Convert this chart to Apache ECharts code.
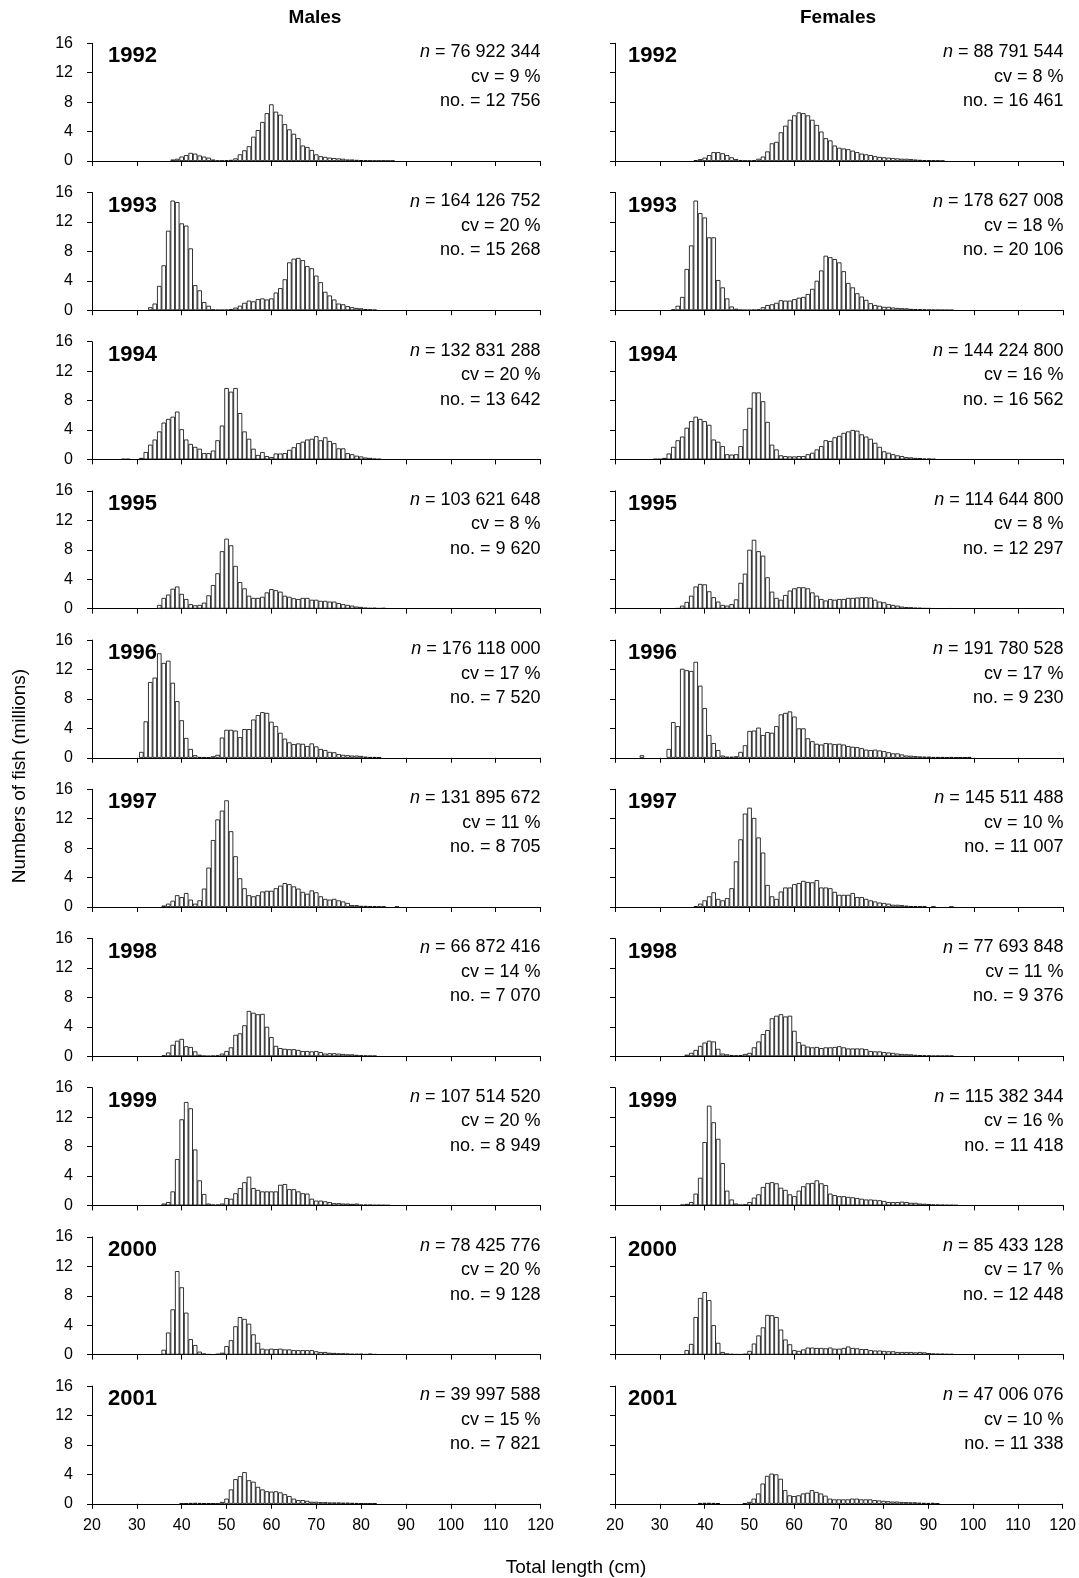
<!DOCTYPE html>
<html>
<head>
<meta charset="utf-8">
<script src="https://cdn.jsdelivr.net/npm/echarts@6.0.0/dist/echarts.min.js"></script>
<style>
html,body{margin:0;padding:0;background:#fff;}
#c{width:1079px;height:1578px;}
</style>
</head>
<body>
<div id="c"></div>
<script>
// Length classes: index 0 = 20 cm, 1-cm bins
const START_LEN = 20;
const years = [1992, 1993, 1994, 1995, 1996, 1997, 1998, 1999, 2000, 2001];
const xTicks = [20, 30, 40, 50, 60, 70, 80, 90, 100, 110, 120];
const yTicks = [0, 4, 8, 12, 16];

// Males (millions of fish)
const m1992 = [0,0,0,0,0,0,0,0,0,0, 0,0,0,0,0,0,0,0,0.2,0.3, 0.6,0.8,1.1,1.0,0.75,0.6,0.45,0.2,0.05,0.05, 0.1,0.15,0.35,0.9,1.45,2.0,3.3,4.2,5.3,6.5, 7.7,6.7,6.3,5.0,4.3,3.7,3.1,2.1,1.9,1.5, 0.9,0.65,0.55,0.45,0.4,0.35,0.3,0.2,0.2,0.15, 0.12,0.08,0.05,0.03,0.03,0.05,0.02,0.03];
const m1993 = [0,0,0,0,0,0,0,0,0,0, 0,0,0,0.4,0.9,3.3,6.1,10.8,14.9,14.7, 11.8,11.5,8.4,3.4,2.7,1.1,0.6,0.1,0.03,0.03, 0.05,0.15,0.35,0.6,1.0,1.3,1.2,1.5,1.6,1.45, 1.6,2.4,3.0,4.2,6.5,7.0,7.1,6.8,6.0,5.7, 4.7,3.8,2.5,2.0,1.45,0.9,0.8,0.55,0.4,0.3, 0.25,0.15,0.1,0.05];
const m1994 = [0,0,0,0,0,0,0,0.05,0.05,0, 0,0.2,1.0,2.0,2.7,3.8,5.0,5.5,5.8,6.5, 4.1,2.7,2.1,1.7,1.45,0.85,0.85,1.2,2.6,4.6, 9.7,9.2,9.7,6.3,3.8,2.8,1.45,0.6,1.0,0.45, 0.3,0.8,0.8,0.85,1.3,1.65,2.2,2.4,2.7,2.8, 3.15,2.6,3.0,2.5,2.2,1.5,1.5,0.85,0.7,0.5, 0.4,0.25,0.2,0.1,0.05];
const m1995 = [0,0,0,0,0,0,0,0,0,0, 0,0,0,0,0,0.5,1.45,1.9,2.7,3.0, 2.0,1.3,0.6,0.45,0.5,0.8,1.8,3.2,4.8,7.8, 9.5,8.6,5.8,3.6,2.75,1.75,1.45,1.45,1.6,2.2, 2.65,2.5,2.3,1.75,1.6,1.4,1.3,1.45,1.45,1.2, 1.2,1.05,1.05,0.95,0.95,0.75,0.6,0.5,0.4,0.27, 0.22,0.13,0.08,0.1,0.05,0.08,0.03];
const m1996 = [0,0,0,0,0,0,0,0,0,0, 0,0.8,4.95,10.3,10.9,14.2,12.9,13.2,10.2,7.7, 5.1,2.7,1.2,0.35,0.1,0.05,0.05,0.2,0.4,2.75, 3.8,3.8,3.7,2.8,3.9,3.9,5.2,5.8,6.2,6.1, 4.9,4.3,3.4,2.6,2.1,1.85,1.95,1.9,1.6,1.95, 1.55,1.2,1.05,0.8,0.75,0.5,0.4,0.35,0.3,0.3, 0.25,0.15,0.1,0.1,0.05];
const m1997 = [0,0,0,0,0,0,0,0,0,0, 0,0,0,0,0,0,0.2,0.45,0.85,1.6, 1.35,1.9,1.0,0.45,0.9,2.5,5.35,9.1,11.9,13.1, 14.5,10.3,6.9,3.9,2.55,1.6,1.45,1.6,2.1,2.2, 2.2,2.55,2.9,3.25,3.1,2.8,2.5,2.05,1.8,2.25, 2.0,1.45,1.1,1.0,1.1,0.9,0.75,0.55,0.25,0.25, 0.15,0.15,0.1,0.1,0.05,0.05,0,0,0.05];
const m1998 = [0,0,0,0,0,0,0,0,0,0, 0,0,0,0,0,0,0.1,0.5,1.55,2.1, 2.35,1.35,1.25,0.65,0.2,0.05,0.02,0.05,0.1,0.35, 0.7,1.2,2.9,3.1,4.2,6.15,5.9,5.7,5.75,4.0, 2.6,1.4,1.1,1.0,0.95,0.95,0.85,0.7,0.7,0.65, 0.7,0.55,0.35,0.4,0.4,0.35,0.3,0.25,0.25,0.18, 0.12,0.08,0.05,0.05];
const m1999 = [0,0,0,0,0,0,0,0,0,0, 0,0,0,0,0,0,0.25,0.45,1.9,6.3, 11.7,14.05,13.2,7.6,3.4,1.55,0.25,0.1,0.1,0.25, 1.0,0.9,1.65,2.35,3.15,3.9,2.35,2.1,1.9,1.9, 1.9,1.9,2.8,2.9,2.2,2.2,1.9,1.65,1.6,0.9, 0.65,0.65,0.55,0.45,0.3,0.3,0.25,0.25,0.2,0.25, 0.1,0.1,0.08,0.05,0.05,0.05,0.03];
const m2000 = [0,0,0,0,0,0,0,0,0,0, 0,0,0,0,0,0,0.65,3.0,6.15,11.35, 9.15,5.7,2.1,1.3,0.4,0.15,0.05,0.02,0.1,0.25, 1.15,1.95,3.85,5.1,4.85,4.2,2.75,1.6,0.8,0.7, 0.8,0.75,0.8,0.7,0.7,0.6,0.6,0.6,0.6,0.6, 0.45,0.35,0.35,0.25,0.22,0.18,0.18,0.15,0.1,0.1, 0.1,0.05,0.12,0.05];
const m2001 = [0,0,0,0,0,0,0,0,0,0, 0,0,0,0,0,0,0,0,0,0, 0.05,0.05,0.1,0.12,0.1,0.08,0.08,0.05,0.02,0.25, 0.7,1.95,3.35,3.75,4.3,3.2,3.0,2.3,1.95,1.7, 1.65,1.7,1.55,1.3,1.05,0.7,0.5,0.5,0.4,0.27, 0.27,0.22,0.22,0.18,0.18,0.18,0.15,0.15,0.12,0.1, 0.05,0.03,0.03,0.05];

// Females (millions of fish)
const f1992 = [0,0,0,0,0,0,0,0,0,0, 0,0,0,0,0,0,0,0,0.1,0.25, 0.45,0.8,1.2,1.2,1.05,0.8,0.5,0.25,0.1,0.05, 0.05,0.1,0.3,0.6,1.3,2.4,2.6,3.9,4.8,5.6, 6.2,6.6,6.5,6.2,5.6,4.9,4.0,3.1,2.8,2.1, 1.8,1.7,1.6,1.4,1.2,1.0,0.9,0.8,0.65,0.55, 0.5,0.45,0.4,0.35,0.3,0.3,0.25,0.2,0.15,0.12, 0.1,0.08,0.05,0.03];
const f1993 = [0,0,0,0,0,0,0,0,0,0, 0,0,0,0.1,0.6,1.8,5.6,8.8,14.9,13.2, 12.6,9.9,9.9,4.1,3.1,1.6,0.5,0.2,0.05,0.02, 0.02,0.05,0.1,0.4,0.7,0.8,1.0,1.35,1.3,1.3, 1.5,1.7,1.8,2.2,2.9,4.0,5.4,7.4,7.2,6.95, 6.5,5.3,3.7,3.1,2.3,1.85,1.4,0.95,0.7,0.6, 0.45,0.45,0.36,0.3,0.27,0.25,0.18,0.15,0.12,0.08, 0.06,0.05,0.04,0.03,0.02,0.02];
const f1994 = [0,0,0,0,0,0,0,0,0,0.05, 0.05,0.2,0.8,1.7,2.6,3.1,4.3,5.2,5.8,5.5, 5.2,4.7,2.7,2.4,1.8,0.7,0.65,0.7,1.8,4.1, 7.0,9.1,9.1,7.9,5.1,2.0,1.35,0.55,0.45,0.4, 0.4,0.45,0.45,0.7,0.9,1.35,1.8,2.6,2.5,3.0, 3.2,3.6,3.8,4.0,3.9,3.4,3.1,2.8,2.25,1.7, 1.1,0.9,0.7,0.55,0.45,0.3,0.27,0.2,0.18,0.1, 0.1,0.05];
const f1995 = [0,0,0,0,0,0,0,0,0,0, 0,0,0,0,0.05,0.4,0.9,1.75,3.0,3.35, 3.3,2.35,1.55,0.95,0.5,0.4,0.6,1.25,3.5,4.75, 8.0,9.35,7.8,7.2,4.25,2.3,1.45,1.2,1.85,2.45, 2.75,2.9,2.9,2.75,2.2,1.75,1.3,1.1,1.3,1.2, 1.3,1.3,1.45,1.45,1.5,1.55,1.55,1.5,1.2,0.95, 0.85,0.6,0.5,0.4,0.27,0.2,0.18,0.12,0.1,0.06, 0.05,0.03,0.02,0.02,0.02,0.03];
const f1996 = [0,0,0,0,0,0,0.35,0,0,0, 0,0,1.2,4.85,4.3,12.1,11.9,11.8,13.05,9.8, 6.75,3.1,2.0,1.05,0.3,0.15,0.15,0.2,0.8,1.7, 3.65,3.7,4.1,3.1,3.5,3.4,4.3,5.9,6.1,6.3, 5.6,4.0,4.0,2.65,2.25,1.9,1.8,2.0,1.95,1.85, 1.9,1.8,1.6,1.5,1.45,1.3,1.1,1.05,1.1,1.0, 0.9,0.75,0.6,0.6,0.45,0.3,0.28,0.22,0.18,0.15, 0.15,0.1,0.1,0.1,0.05,0.1,0.05,0.05,0.05,0.1];
const f1997 = [0,0,0,0,0,0,0,0,0,0, 0,0,0,0,0,0,0,0,0.1,0.45, 0.9,1.45,2.0,1.1,0.9,1.2,2.55,6.2,9.2,12.7, 13.5,12.1,9.45,7.4,3.0,1.45,1.1,2.1,2.65,2.65, 3.1,3.25,3.55,3.4,3.35,3.65,2.65,2.65,2.55,2.05, 1.65,1.65,1.65,1.9,1.35,1.35,1.1,0.9,0.75,0.6, 0.55,0.45,0.3,0.3,0.25,0.18,0.12,0.12,0.08,0.08, 0,0.05,0,0,0,0.03];
const f1998 = [0,0,0,0,0,0,0,0,0,0, 0,0,0,0,0,0,0.2,0.45,0.85,1.4, 1.85,2.1,2.0,1.0,0.35,0.25,0.15,0.1,0.15,0.3, 0.45,1.2,2.0,3.0,3.55,5.15,5.5,5.7,5.4,5.5, 3.45,1.9,1.55,1.3,1.2,1.25,1.1,1.2,1.2,1.25, 1.35,1.2,1.05,1.05,1.05,1.05,0.95,0.7,0.65,0.65, 0.55,0.5,0.45,0.35,0.3,0.27,0.25,0.18,0.15,0.12, 0.1,0.05,0.05,0.05,0.05,0.05];
const f1999 = [0,0,0,0,0,0,0,0,0,0, 0,0,0,0,0,0.1,0.2,0.45,1.6,3.75, 8.6,13.55,11.3,9.05,5.75,2.0,0.8,0.25,0.1,0.15, 0.45,1.05,1.5,2.5,3.05,3.15,3.0,2.4,2.1,1.5, 1.25,2.0,2.6,3.0,3.05,3.4,3.0,2.75,1.6,1.4, 1.25,1.25,1.15,1.1,1.0,0.9,0.8,0.8,0.75,0.7, 0.6,0.45,0.45,0.45,0.5,0.45,0.35,0.35,0.25,0.22, 0.18,0.12,0.1,0.08,0.05,0.05,0.03];
const f2000 = [0,0,0,0,0,0,0,0,0,0, 0,0,0,0,0,0,0.6,1.45,5.1,7.7, 8.5,7.4,4.0,1.6,0.35,0.15,0.08,0.05,0.04,0.1, 0.5,1.5,2.6,3.7,5.4,5.35,5.1,3.4,2.05,1.4, 0.6,0.5,0.7,0.95,0.95,0.9,0.9,0.85,0.95,0.8, 0.8,0.9,1.1,0.9,0.85,0.75,0.75,0.6,0.55,0.55, 0.5,0.45,0.45,0.35,0.35,0.35,0.35,0.3,0.35,0.3, 0.2,0.15,0.12,0.12,0.08,0.08];
const f2001 = [0,0,0,0,0,0,0,0,0,0, 0,0,0,0,0,0,0,0,0,0.1, 0.12,0.12,0.1,0.08,0,0,0,0,0,0.05, 0.25,0.7,1.4,2.75,3.8,4.1,4.0,3.4,1.85,1.15, 1.05,1.15,1.4,1.5,1.85,1.6,1.4,1.1,0.7,0.6, 0.6,0.6,0.6,0.7,0.7,0.6,0.6,0.6,0.5,0.45, 0.4,0.35,0.3,0.3,0.25,0.22,0.2,0.2,0.15,0.12, 0.1,0.12,0.05];

const males = [m1992, m1993, m1994, m1995, m1996, m1997, m1998, m1999, m2000, m2001];
const females = [f1992, f1993, f1994, f1995, f1996, f1997, f1998, f1999, f2000, f2001];

// Panel annotations
const maleN = ['76 922 344', '164 126 752', '132 831 288', '103 621 648', '176 118 000', '131 895 672', '66 872 416', '107 514 520', '78 425 776', '39 997 588'];
const maleCV = ['9', '20', '20', '8', '17', '11', '14', '20', '20', '15'];
const maleNo = ['12 756', '15 268', '13 642', '9 620', '7 520', '8 705', '7 070', '8 949', '9 128', '7 821'];
const femaleN = ['88 791 544', '178 627 008', '144 224 800', '114 644 800', '191 780 528', '145 511 488', '77 693 848', '115 382 344', '85 433 128', '47 006 076'];
const femaleCV = ['8', '18', '16', '8', '17', '10', '11', '16', '17', '10'];
const femaleNo = ['16 461', '20 106', '16 562', '12 297', '9 230', '11 007', '9 376', '11 418', '12 448', '11 338'];

const columnTitles = ['Males', 'Females'];
const yAxisTitle = 'Numbers of fish (millions)';
const xAxisTitle = 'Total length (cm)';

// ---- layout ----
const FONT = '"Liberation Sans", Arial, Helvetica, sans-serif';
const colLeft = [92, 615];
const yearOffset = [16, 13];
const plotW = 448.5;
const top0 = 43.3, rowStep = 149.2, plotH = 117.7;

const grids = [], xAxes = [], yAxes = [], series = [], graphics = [];

function txt(x, y, text, opt) {
  const o = Object.assign({size: 18, weight: 'normal', align: 'left', rotation: 0, rich: null}, opt || {});
  const style = {
    text: text,
    fill: '#000',
    fontSize: o.size,
    fontFamily: FONT,
    fontWeight: o.weight,
    textAlign: o.align,
    textVerticalAlign: 'middle',
    align: o.align,
    verticalAlign: 'middle'
  };
  if (o.rich) style.rich = o.rich;
  graphics.push({type: 'text', x: x, y: y, rotation: o.rotation, silent: true, style: style});
}

const richN = {i: {fontStyle: 'italic', fontSize: 18, fontFamily: FONT, fill: '#000'}};

for (let r = 0; r < years.length; r++) {
  for (let c = 0; c < 2; c++) {
    const idx = r * 2 + c;
    const left = colLeft[c];
    const top = top0 + r * rowStep;
    grids.push({left: left, top: top, width: plotW, height: plotH});
    xAxes.push({
      type: 'value', gridIndex: idx, min: xTicks[0], max: xTicks[xTicks.length - 1], interval: 10,
      axisLine: {show: true, onZero: false, lineStyle: {color: '#000', width: 1}},
      axisTick: {show: true, inside: false, length: 5, lineStyle: {color: '#000', width: 1}},
      axisLabel: {show: r === years.length - 1, fontSize: 16, color: '#000', fontFamily: FONT, margin: 14},
      splitLine: {show: false}
    });
    yAxes.push({
      type: 'value', gridIndex: idx, min: yTicks[0], max: yTicks[yTicks.length - 1], interval: 4,
      axisLine: {show: true, lineStyle: {color: '#000', width: 1}},
      axisTick: {show: true, inside: false, length: 5, lineStyle: {color: '#000', width: 1}},
      axisLabel: {show: c === 0, fontSize: 16, color: '#000', fontFamily: FONT, margin: 19},
      splitLine: {show: false}
    });
    const vals = (c === 0 ? males : females)[r];
    const data = [];
    vals.forEach(function (v, i) { if (v > 0) data.push([START_LEN + i, v]); });
    series.push({
      type: 'bar', xAxisIndex: idx, yAxisIndex: idx, data: data,
      barWidth: '100%',
      itemStyle: {color: '#fff', borderColor: '#000', borderWidth: 0.8},
      silent: true, animation: false
    });
    // year label
    txt(left + yearOffset[c], top + 13, String(years[r]), {size: 22, weight: 'bold'});
    // annotation
    const right = left + plotW;
    const nn = c === 0 ? maleN[r] : femaleN[r];
    const cv = c === 0 ? maleCV[r] : femaleCV[r];
    const no = c === 0 ? maleNo[r] : femaleNo[r];
    txt(right, top + 9, '{i|n} = ' + nn, {align: 'right', rich: richN});
    txt(right, top + 33.5, 'cv = ' + cv + ' %', {align: 'right'});
    txt(right, top + 58, 'no. = ' + no, {align: 'right'});
  }
}

txt(315, 18, columnTitles[0], {size: 19, weight: 'bold', align: 'center'});
txt(838, 18, columnTitles[1], {size: 19, weight: 'bold', align: 'center'});
txt(20, 776, yAxisTitle, {size: 19, align: 'center', rotation: Math.PI / 2});
txt(576, 1568, xAxisTitle, {size: 19, align: 'center'});

const chart = echarts.init(document.getElementById('c'), null, {renderer: 'canvas', width: 1079, height: 1578});
chart.setOption({
  animation: false,
  backgroundColor: '#fff',
  grid: grids,
  xAxis: xAxes,
  yAxis: yAxes,
  series: series,
  graphic: {elements: graphics}
});
</script>
</body>
</html>
